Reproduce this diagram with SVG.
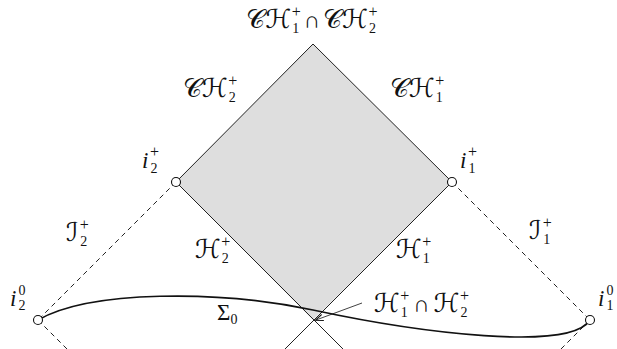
<svg xmlns="http://www.w3.org/2000/svg" width="617" height="349" viewBox="0 0 617 349">
<style>
.ln{stroke:#222;stroke-width:1;fill:none}
.dash{stroke:#222;stroke-width:1;fill:none;stroke-dasharray:5 4}
.pt{fill:#fff;stroke:#111;stroke-width:1.1}
text{fill:#111;font-family:"Liberation Serif",serif}
.scr{font-family:"DejaVu Serif","DejaVu Sans",serif;font-size:26px}
.it{font-style:italic;font-size:23px}
.rm{font-size:23px}
.sm{font-size:14px}
.sp{font-size:16px}
</style>
<defs>
<marker id="ah" viewBox="0 0 10 10" refX="9" refY="5" markerWidth="8" markerHeight="8" orient="auto" markerUnits="userSpaceOnUse">
<path d="M0,1 L10,5 L0,9" fill="none" stroke="#111" stroke-width="1.3"/>
</marker>
</defs>
<rect width="617" height="349" fill="#fff"/>
<g id="region">
<polygon points="313,44 452,182 313,320 176,182" fill="#dedede" stroke="none"/>
</g>
<g id="connectors">
<line class="ln" x1="313" y1="44" x2="176" y2="182"/>
<line class="ln" x1="313" y1="44" x2="452" y2="182"/>
<line class="ln" x1="176" y1="182" x2="343" y2="349"/>
<line class="ln" x1="452" y1="182" x2="285" y2="349"/>
<line class="dash" x1="176" y1="182" x2="38" y2="320"/>
<line class="dash" x1="38" y1="320" x2="67" y2="349"/>
<line class="dash" x1="452" y1="182" x2="590" y2="320"/>
<line class="dash" x1="590" y1="320" x2="561" y2="349"/>
<path d="M38,320 C90,290 220,290 313,310 C420,333 570,352 590,320" fill="none" stroke="#111" stroke-width="1.7"/>
<line x1="362" y1="303" x2="316" y2="320" stroke="#111" stroke-width="0.8" marker-end="url(#ah)"/>
</g>
<g id="i2plus"><circle class="pt" cx="176" cy="182" r="4.5"/></g>
<g id="i1plus"><circle class="pt" cx="452" cy="182" r="4.5"/></g>
<g id="i20"><circle class="pt" cx="38" cy="320" r="4.5"/></g>
<g id="i10"><circle class="pt" cx="590" cy="320" r="4.5"/></g>
<g id="labels">
<g id="lbl-top"><text x="312" y="28" text-anchor="middle"><tspan class="scr">𝒞ℋ</tspan><tspan class="sm" dx="1" dy="5">1</tspan><tspan class="sp" dx="-7.5" dy="-16">+</tspan><tspan class="rm" dx="3" dy="11">∩</tspan><tspan class="scr" dx="3">𝒞ℋ</tspan><tspan class="sm" dx="1" dy="5">2</tspan><tspan class="sp" dx="-7.5" dy="-16">+</tspan></text></g>
<g id="lbl-ch2"><text x="183" y="97"><tspan class="scr">𝒞ℋ</tspan><tspan class="sm" dx="1" dy="5">2</tspan><tspan class="sp" dx="-7.5" dy="-16">+</tspan></text></g>
<g id="lbl-ch1"><text x="390" y="97"><tspan class="scr">𝒞ℋ</tspan><tspan class="sm" dx="1" dy="5">1</tspan><tspan class="sp" dx="-7.5" dy="-16">+</tspan></text></g>
<g id="lbl-i2p"><text x="142" y="168"><tspan class="it">i</tspan><tspan class="sm" dx="2" dy="5">2</tspan><tspan class="sp" dx="-7.5" dy="-16">+</tspan></text></g>
<g id="lbl-i1p"><text x="460" y="168"><tspan class="it">i</tspan><tspan class="sm" dx="2" dy="5">1</tspan><tspan class="sp" dx="-7.5" dy="-16">+</tspan></text></g>
<g id="lbl-i20"><text x="10" y="306"><tspan class="it">i</tspan><tspan class="sm" dx="2" dy="4">2</tspan><tspan class="sm" dx="-7" dy="-15">0</tspan></text></g>
<g id="lbl-i10"><text x="598" y="306"><tspan class="it">i</tspan><tspan class="sm" dx="2" dy="4">1</tspan><tspan class="sm" dx="-7" dy="-15">0</tspan></text></g>
<g id="lbl-scri2"><text x="66" y="241"><tspan class="scr">ℐ</tspan><tspan class="sm" dx="2" dy="5">2</tspan><tspan class="sp" dx="-7.5" dy="-16">+</tspan></text></g>
<g id="lbl-scri1"><text x="529" y="239"><tspan class="scr">ℐ</tspan><tspan class="sm" dx="2" dy="5">1</tspan><tspan class="sp" dx="-7.5" dy="-16">+</tspan></text></g>
<g id="lbl-h2"><text x="195" y="258"><tspan class="scr">ℋ</tspan><tspan class="sm" dx="1" dy="5">2</tspan><tspan class="sp" dx="-7.5" dy="-16">+</tspan></text></g>
<g id="lbl-h1"><text x="396" y="258"><tspan class="scr">ℋ</tspan><tspan class="sm" dx="1" dy="5">1</tspan><tspan class="sp" dx="-7.5" dy="-16">+</tspan></text></g>
<g id="lbl-sigma"><text x="217" y="320"><tspan class="rm" font-size="25">Σ</tspan><tspan class="sm" dx="0" dy="4">0</tspan></text></g>
<g id="lbl-h12"><text x="374" y="312"><tspan class="scr">ℋ</tspan><tspan class="sm" dx="1" dy="5">1</tspan><tspan class="sp" dx="-7.5" dy="-16">+</tspan><tspan class="rm" dx="4" dy="11">∩</tspan><tspan class="scr" dx="4">ℋ</tspan><tspan class="sm" dx="1" dy="5">2</tspan><tspan class="sp" dx="-7.5" dy="-16">+</tspan></text></g>
</g>
</svg>
